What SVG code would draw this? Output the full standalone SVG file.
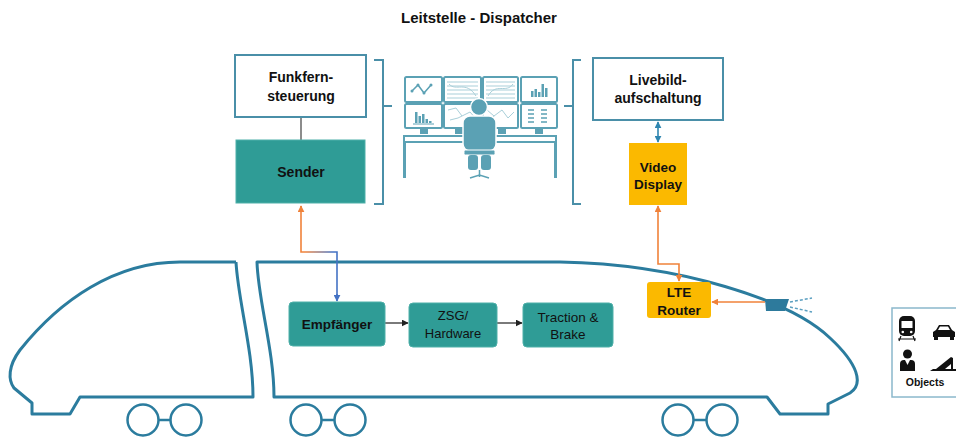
<svg xmlns="http://www.w3.org/2000/svg" width="956" height="437" viewBox="0 0 956 437">
  <style>
    .lbl { font-family: "Liberation Sans", Arial, sans-serif; fill: #111; text-anchor: middle; }
    .b { font-weight: bold; }
    .outline { fill: #fff; stroke: #4a8fa8; stroke-width: 2; }
    .teal { fill: #2f9c96; stroke: #4fb0a9; stroke-width: 1; }
    .amber { fill: #fbb900; }
    .train { fill: none; stroke: #2b7c9e; stroke-width: 3; stroke-linejoin: round; }
    .wheel { fill: none; stroke: #2b7c9e; stroke-width: 2.5; }
    .brk { fill: none; stroke: #4a8fa8; stroke-width: 2; }
    .ico { fill: #5ba1b4; }
    .mon { fill: #fff; stroke: #5ba1b4; stroke-width: 2; }
    .fine { fill: none; stroke: #5ba1b4; stroke-width: 1.5; }
    .wave { fill: none; stroke: #a9cfd9; stroke-width: 1; }
    .orange { fill: none; stroke: #f0823a; stroke-width: 1.6; }
    .blue { fill: none; stroke: #2f86b0; stroke-width: 1.6; }
    .dark { fill: none; stroke: #222; stroke-width: 1.2; }
    .obj { fill: #111; }
  </style>
  <defs>
    <marker id="arrOrange" viewBox="0 0 10 10" refX="9" refY="5" markerWidth="7" markerHeight="7" markerUnits="userSpaceOnUse" orient="auto-start-reverse">
      <path d="M0,0 L10,5 L0,10 z" fill="#f0823a"/>
    </marker>
    <marker id="arrBlue" viewBox="0 0 10 10" refX="9" refY="5" markerWidth="7" markerHeight="7" markerUnits="userSpaceOnUse" orient="auto-start-reverse">
      <path d="M0,0 L10,5 L0,10 z" fill="#2f86b0"/>
    </marker>
    <marker id="arrRoyal" viewBox="0 0 10 10" refX="9" refY="5" markerWidth="7" markerHeight="7" markerUnits="userSpaceOnUse" orient="auto-start-reverse">
      <path d="M0,0 L10,5 L0,10 z" fill="#4472c4"/>
    </marker>
    <marker id="arrDark" viewBox="0 0 10 10" refX="9" refY="5" markerWidth="7" markerHeight="7" markerUnits="userSpaceOnUse" orient="auto">
      <path d="M0,0 L10,5 L0,10 z" fill="#222"/>
    </marker>
    <linearGradient id="radioLink" gradientUnits="userSpaceOnUse" x1="305" y1="0" x2="333" y2="0">
      <stop offset="0" stop-color="#f0823a"/>
      <stop offset="1" stop-color="#4472c4"/>
    </linearGradient>
  </defs>

  <rect width="956" height="437" fill="#fff"/>

  <text class="lbl b" x="479" y="23" font-size="15">Leitstelle - Dispatcher</text>

  <!-- train bodies -->
  <g id="train">
    <path class="train" d="M236,262 L180,262 C115,262 60,300 20,350 C8,366 8,380 14,388 L32,403 L32,414 L70,414 L80,397 L253,397 C253,350 238,300 236,262"/>
    <path class="train" d="M274,397 C274,350 258,300 257,262 L560,262 C680,264 790,300 830,338 C858,364 864,384 850,393 L828,404 L828,414 L780,414 L767,397 Z"/>
    <circle class="wheel" cx="143" cy="420" r="15.5"/>
    <circle class="wheel" cx="186" cy="420" r="15.5"/>
    <line class="wheel" x1="158.5" y1="420" x2="170.5" y2="420"/>
    <circle class="wheel" cx="306" cy="420" r="15.5"/>
    <circle class="wheel" cx="350" cy="420" r="15.5"/>
    <line class="wheel" x1="321.5" y1="420" x2="334.5" y2="420"/>
    <circle class="wheel" cx="678" cy="420" r="15.5"/>
    <circle class="wheel" cx="722" cy="420" r="15.5"/>
    <line class="wheel" x1="693.5" y1="420" x2="706.5" y2="420"/>
  </g>

  <!-- brackets round the control room -->
  <g id="brackets">
    <path class="brk" d="M374,60 L383,60 L383,204 L374,204 M383,106 L392,106"/>
    <path class="brk" d="M581,60 L573,60 L573,204 L581,204 M573,106 L564,106"/>
  </g>

  <!-- connectors -->
  <g id="connectors">
    <line x1="301" y1="117" x2="301" y2="140" stroke="#666" stroke-width="1.5"/>
    <path d="M301,206 L301,252 L337,252 L337,300" fill="none" stroke="url(#radioLink)" stroke-width="1.6"/>
    <path d="M301,212 L301,206" fill="none" stroke="#f0823a" stroke-width="1.6" marker-end="url(#arrOrange)"/>
    <path d="M337,294 L337,301" fill="none" stroke="#4472c4" stroke-width="1.6" marker-end="url(#arrRoyal)"/>
    <path class="blue" d="M658,122 L658,142" marker-start="url(#arrBlue)" marker-end="url(#arrBlue)"/>
    <path class="orange" d="M658,206 L658,264 L679,264 L679,281" marker-start="url(#arrOrange)" marker-end="url(#arrOrange)"/>
    <path class="orange" d="M765,302 L712,302" marker-end="url(#arrOrange)"/>
    <path class="dark" d="M385,323 L408,323" marker-end="url(#arrDark)"/>
    <path class="dark" d="M497,323 L522,323" marker-end="url(#arrDark)"/>
  </g>

  <g id="funkfernsteuerung">
    <rect class="outline" x="235" y="55" width="131" height="62"/>
    <text class="lbl b" x="301" y="82" font-size="14">Funkfern-</text>
    <text class="lbl b" x="301" y="101" font-size="14">steuerung</text>
  </g>

  <g id="sender">
    <rect class="teal" x="236" y="140" width="129" height="63"/>
    <text class="lbl b" x="301" y="177" font-size="14">Sender</text>
  </g>

  <g id="livebildaufschaltung">
    <rect class="outline" x="593" y="58" width="130" height="62"/>
    <text class="lbl b" x="658" y="85" font-size="14">Livebild-</text>
    <text class="lbl b" x="658" y="103" font-size="14">aufschaltung</text>
  </g>

  <g id="video-display">
    <rect class="amber" x="629" y="143" width="58" height="62"/>
    <text class="lbl b" x="658" y="172" font-size="13.5">Video</text>
    <text class="lbl b" x="658" y="189" font-size="13.5">Display</text>
  </g>

  <g id="lte-router">
    <rect class="amber" x="647" y="282" width="64" height="36" rx="3"/>
    <text class="lbl b" x="679" y="297" font-size="13.5">LTE</text>
    <text class="lbl b" x="679" y="315" font-size="13.5">Router</text>
  </g>

  <g id="camera">
    <path d="M765,299 L789,299 L785,311 L766,311 Z" fill="#2d7a9c"/>
    <path d="M790,302 L812,298 M790,307 L812,312" fill="none" stroke="#5b9fc0" stroke-width="1.5" stroke-dasharray="3,2"/>
  </g>

  <g id="empfaenger">
    <rect class="teal" x="289" y="302" width="96" height="44" rx="4"/>
    <text class="lbl b" x="337" y="329" font-size="13.5">Empfänger</text>
  </g>

  <g id="zsg-hardware">
    <rect class="teal" x="409" y="303" width="88" height="44" rx="4"/>
    <text class="lbl" x="453" y="320" font-size="13">ZSG/</text>
    <text class="lbl" x="453" y="338" font-size="13">Hardware</text>
  </g>

  <g id="traction-brake">
    <rect class="teal" x="523" y="303" width="90" height="44" rx="4"/>
    <text class="lbl" x="568" y="322" font-size="13.5">Traction &amp;</text>
    <text class="lbl" x="568" y="339" font-size="13.5">Brake</text>
  </g>

  <!-- dispatcher workstation pictogram -->
  <g id="dispatcher">
    <rect class="mon" x="405" y="77" width="37" height="25" rx="1.5"/>
    <rect class="mon" x="444" y="77" width="37" height="25" rx="1.5"/>
    <rect class="mon" x="483" y="77" width="35" height="25" rx="1.5"/>
    <rect class="mon" x="521" y="77" width="36" height="25" rx="1.5"/>
    <rect class="mon" x="405" y="104" width="37" height="24" rx="1.5"/>
    <rect class="mon" x="444" y="104" width="37" height="24" rx="1.5"/>
    <rect class="mon" x="483" y="104" width="35" height="24" rx="1.5"/>
    <rect class="mon" x="521" y="104" width="36" height="24" rx="1.5"/>
    <!-- line chart -->
    <path class="fine" d="M412,91 L418,85 L424,93 L431,85"/>
    <circle class="ico" cx="412" cy="91" r="1.5"/>
    <circle class="ico" cx="418" cy="85" r="1.5"/>
    <circle class="ico" cx="424" cy="93" r="1.5"/>
    <circle class="ico" cx="431" cy="85" r="1.5"/>
    <!-- wave panels -->
    <path class="wave" d="M447,82 H478 M447,86 H478 M447,90 H478 M447,94 H478 M447,98 H478 M449,84 C456,92 466,80 476,96"/>
    <path class="wave" d="M486,82 H515 M486,86 H515 M486,90 H515 M486,94 H515 M486,98 H515 M488,96 C496,82 506,94 513,84"/>
    <!-- bar charts -->
    <path class="ico" d="M531,91 h2.5 v6 h-2.5z M534.5,89 h2.5 v8 h-2.5z M538,92 h2.5 v5 h-2.5z M541.5,84 h2.5 v13 h-2.5z M545,88 h2.5 v9 h-2.5z"/>
    <path class="ico" d="M415,112 h2.5 v11 h-2.5z M418.5,116 h2.5 v7 h-2.5z M422,114 h2.5 v9 h-2.5z M425.5,119 h2.5 v4 h-2.5z M429,121 h2.5 v2 h-2.5z"/>
    <line x1="413" y1="124" x2="434" y2="124" stroke="#5ba1b4" stroke-width="1"/>
    <!-- network panels -->
    <path class="wave" d="M448,110 L456,108 L462,116 L470,112 L477,120 M450,120 L458,118 L462,116 M487,110 L494,116 L502,110 L508,118 L514,112 M490,122 L494,116"/>
    <!-- list panel -->
    <path class="fine" d="M528,110 h6 M528,114 h6 M528,118 h6 M528,122 h6 M541,110 h6 M541,114 h6 M541,118 h6 M541,122 h6"/>
    <!-- stands -->
    <rect class="ico" x="420" y="128" width="8" height="6"/>
    <rect class="ico" x="455" y="128" width="8" height="6"/>
    <rect class="ico" x="498" y="128" width="8" height="6"/>
    <rect class="ico" x="535" y="128" width="8" height="6"/>
    <!-- desk -->
    <rect class="mon" x="404" y="136" width="152" height="6"/>
    <rect class="ico" x="403" y="142" width="3" height="36"/>
    <rect class="ico" x="554" y="142" width="3" height="36"/>
    <!-- operator -->
    <circle cx="479" cy="107" r="8.5" fill="#5ba1b4" stroke="#fff" stroke-width="1.5"/>
    <rect x="463" y="116" width="33" height="35" rx="7" fill="#5ba1b4" stroke="#fff" stroke-width="1.5"/>
    <rect x="464" y="150" width="31" height="5" rx="1.5" fill="#5ba1b4" stroke="#fff" stroke-width="1"/>
    <rect x="468" y="155" width="10" height="15" rx="3" class="ico"/>
    <rect x="481" y="155" width="10" height="15" rx="3" class="ico"/>
    <path class="fine" d="M479.5,170 V177 M470,178 L479.5,175 L489,178"/>
  </g>

  <!-- detected object types -->
  <g id="objects">
    <rect x="892" y="308" width="70" height="89" fill="#fff" stroke="#8bb8cc" stroke-width="1.5"/>
    <!-- train front -->
    <rect class="obj" x="899" y="316" width="16" height="20" rx="5"/>
    <rect x="901.5" y="321" width="11" height="7" fill="#fff"/>
    <circle cx="902.8" cy="332" r="1.3" fill="#fff"/>
    <circle cx="911.2" cy="332" r="1.3" fill="#fff"/>
    <path d="M901,336 L899,341 M913,336 L915,341 M898,339 H916" stroke="#111" stroke-width="1.2" fill="none"/>
    <!-- car -->
    <path class="obj" d="M933,337 V332 L936,330 L939,325 H949 L952,330 L955,332 V337 Z"/>
    <path d="M940,326.5 H948 L950,330 H938 Z" fill="#fff"/>
    <rect class="obj" x="934" y="336" width="4" height="4"/>
    <rect class="obj" x="950" y="336" width="4" height="4"/>
    <!-- person -->
    <circle class="obj" cx="907.5" cy="354" r="4.5"/>
    <path class="obj" d="M900,371 V364 Q900,360 904,360 H911 Q915,360 915,364 V371 Z"/>
    <path d="M905,360 L907.5,365 L910,360" fill="#fff"/>
    <!-- ramp / barrier -->
    <path class="obj" d="M930,371 L933,369 L956,369 L956,371 Z"/>
    <path class="obj" d="M936,369 L951,357 L953,358 L953,369 Z"/>
    <path d="M945,369 L951,364 L951,369 Z" fill="#fff"/>
    <text class="lbl b" x="925" y="386" font-size="10.5">Objects</text>
  </g>
</svg>
